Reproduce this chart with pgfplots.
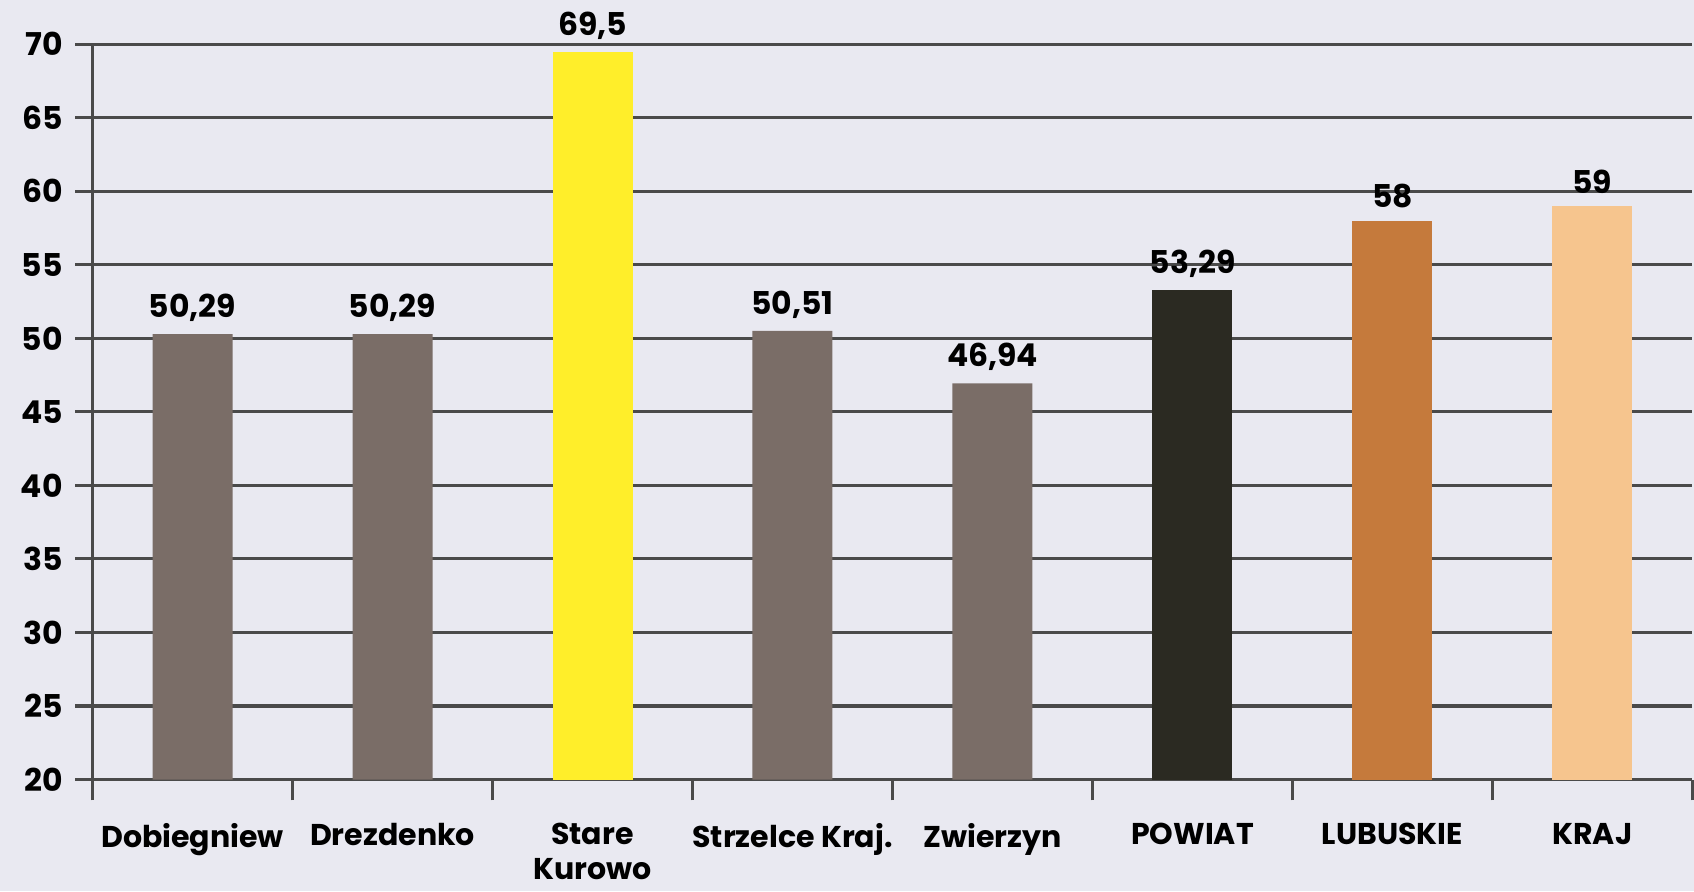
\documentclass[border=0pt]{standalone}
\usepackage{fontspec}
\setmainfont{Poppins}
\usepackage{pgfplots}
\pgfplotsset{compat=1.18}
\definecolor{bg}{HTML}{E9E9F1}
\definecolor{gmina}{HTML}{7A6D67}
\definecolor{stare}{HTML}{FFEE2A}
\definecolor{powiat}{HTML}{2B2A22}
\definecolor{lubus}{HTML}{C57A3C}
\definecolor{kraj}{HTML}{F6C58E}
\definecolor{gridc}{HTML}{4A4A4A}
\begin{document}
\pagecolor{bg}
\begin{tikzpicture}
\begin{axis}[
    scale only axis,
    width=16.1cm, height=7.4cm,
    xmin=-0.5, xmax=7.5,
    ymin=20, ymax=70,
    ytick={20,25,...,70},
    xtick={0,...,7},
    xticklabels={Dobiegniew,Drezdenko,{Stare\\Kurowo},Strzelce Kraj.,Zwierzyn,POWIAT,LUBUSKIE,KRAJ},
    xticklabel style={align=center, font=\bfseries\fontsize{8.6}{10}\selectfont, yshift=-4pt},
    yticklabel style={font=\bfseries\small},
    minor xtick={-0.5,0.5,...,7.5},
    major x tick style={draw=none},
    minor tick length=6pt,
    tick align=outside,
    ymajorgrids=true,
    grid style={gridc, line width=0.9pt},
    axis x line*=bottom,
    axis y line*=left,
    axis line style={gridc, line width=0.9pt, -},
    tick style={gridc, line width=0.9pt},
    major tick length=5pt,
    ybar, bar width=0.4, bar shift=0pt,
    nodes near coords,
    every node near coord/.append style={font=\bfseries\small, text=black},
    /pgf/number format/use comma,
    /pgf/number format/assume math mode=true,
]
\addplot[fill=gmina, draw=none] coordinates {(0,50.29)(1,50.29)(3,50.51)(4,46.94)};
\addplot[fill=stare, draw=none] coordinates {(2,69.5)};
\addplot[fill=powiat, draw=none] coordinates {(5,53.29)};
\addplot[fill=lubus, draw=none] coordinates {(6,58)};
\addplot[fill=kraj, draw=none] coordinates {(7,59)};
\end{axis}
\end{tikzpicture}
\end{document}
